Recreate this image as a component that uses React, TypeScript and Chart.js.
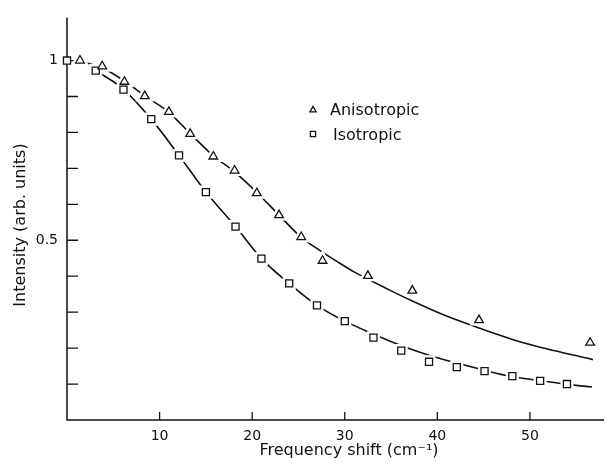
import React, { useEffect, useRef } from 'react';
import { Chart, registerables } from 'chart.js';

Chart.register(...registerables);

// Measured points (Frequency shift in cm^-1, intensity arb. units)
const anisoX = [1.4, 3.8, 6.2, 8.4, 11.0, 13.3, 15.8, 18.1, 20.5, 22.9, 25.3, 27.6, 32.5, 37.3, 44.5, 56.5];
const anisoY = [1.0, 0.984, 0.941, 0.901, 0.857, 0.796, 0.733, 0.694, 0.631, 0.57, 0.509, 0.443, 0.401, 0.36, 0.278, 0.215];

const isoX = [0, 3.1, 6.1, 9.1, 12.1, 15.0, 18.2, 21.0, 24.0, 27.0, 30.0, 33.1, 36.1, 39.1, 42.1, 45.1, 48.1, 51.1, 54.0];
const isoY = [1.0, 0.972, 0.919, 0.837, 0.736, 0.634, 0.538, 0.449, 0.38, 0.319, 0.275, 0.229, 0.193, 0.162, 0.147, 0.136, 0.122, 0.109, 0.1];

// Fitted curves
const anisoFitX = [1.9, 3.8, 6.2, 8.4, 11, 13.3, 15.8, 18.1, 20.5, 22.9, 25.3, 27.3, 29.1, 31.0, 32.5, 34.8, 37.3, 41.0, 44.5, 49.7, 56.8];
const anisoFitY = [0.995, 0.98, 0.943, 0.902, 0.856, 0.797, 0.735, 0.69, 0.633, 0.57, 0.508, 0.472, 0.442, 0.412, 0.392, 0.362, 0.331, 0.289, 0.256, 0.212, 0.168];

const isoFitX = [2.1, 3.1, 6.1, 9.1, 12.1, 15, 18.2, 21, 24, 27, 30, 33, 36, 39, 42, 45, 48, 51, 54, 56.7];
const isoFitY = [0.992, 0.973, 0.92, 0.837, 0.736, 0.634, 0.538, 0.449, 0.38, 0.319, 0.275, 0.24, 0.208, 0.181, 0.159, 0.139, 0.121, 0.11, 0.099, 0.092];

const xTickValues = [10, 20, 30, 40, 50];
const yTickValues = [0.1, 0.2, 0.3, 0.4, 0.5, 0.6, 0.7, 0.8, 0.9, 1.0];
const yLabelValues = [0.5, 1];

const seriesNames = ['Anisotropic', 'Isotropic'];
const xTitle = 'Frequency shift (cm\u207B\u00B9)';
const yTitle = 'Intensity (arb. units)';

const INK = '#111';
const FONT = "'DejaVu Sans', sans-serif";

const pts = (xs: number[], ys: number[]) => xs.map((x, i) => ({ x, y: ys[i] }));

const decorPlugin = {
  id: 'decor',
  beforeDatasetsDraw(chart: any) {
    const { ctx, scales, chartArea } = chart;
    const x = scales.x;
    const y = scales.y;
    ctx.save();
    ctx.strokeStyle = INK;
    ctx.lineWidth = 1.5;
    const x0 = x.getPixelForValue(0);
    const y0 = y.getPixelForValue(0);
    ctx.beginPath();
    ctx.moveTo(x0, chartArea.top);
    ctx.lineTo(x0, y0);
    ctx.lineTo(chartArea.right, y0);
    ctx.stroke();
    ctx.lineWidth = 1.3;
    ctx.beginPath();
    for (const v of yTickValues) {
      const py = y.getPixelForValue(v);
      ctx.moveTo(x0, py);
      ctx.lineTo(x0 + 11, py);
    }
    for (const v of xTickValues) {
      const px = x.getPixelForValue(v);
      ctx.moveTo(px, y0);
      ctx.lineTo(px, y0 - 8);
    }
    ctx.stroke();
    ctx.restore();
  },
  afterDraw(chart: any) {
    const { ctx } = chart;
    ctx.save();
    ctx.fillStyle = INK;
    ctx.font = `16px ${FONT}`;
    // x title
    ctx.textAlign = 'center';
    ctx.textBaseline = 'alphabetic';
    ctx.fillText(xTitle, 349, 455);
    // y title
    ctx.save();
    ctx.translate(25, 225);
    ctx.rotate(-Math.PI / 2);
    ctx.fillText(yTitle, 0, 0);
    ctx.restore();

    // legend
    ctx.textAlign = 'left';
    ctx.strokeStyle = INK;
    ctx.lineWidth = 1.3;
    const tx = 313, ty = 110, r = 3.6;
    ctx.beginPath();
    ctx.moveTo(tx, ty - r);
    ctx.lineTo(tx + r * 0.866, ty + r * 0.5);
    ctx.lineTo(tx - r * 0.866, ty + r * 0.5);
    ctx.closePath();
    ctx.stroke();
    ctx.fillText(seriesNames[0], 330, 115);
    const sx = 313, sy = 134, s = 2.6;
    ctx.strokeRect(sx - s, sy - s, 2 * s, 2 * s);
    ctx.fillText(seriesNames[1], 333, 140);
    ctx.restore();
  },
};

export default function App() {
  const ref = useRef<HTMLCanvasElement | null>(null);

  useEffect(() => {
    if (!ref.current) return;
    const markerBase = {
      showLine: false,
      pointBackgroundColor: '#fff',
      borderColor: INK,
      backgroundColor: '#fff',
      clip: false as any,
    };
    const chart = new Chart(ref.current, {
      type: 'line',
      data: {
        datasets: [
          {
            ...markerBase,
            label: seriesNames[0],
            data: pts(anisoX, anisoY),
            pointStyle: 'triangle',
            pointRadius: 5,
            pointBorderColor: INK,
            pointBorderWidth: 1.3,
          },
          {
            ...markerBase,
            label: seriesNames[1],
            data: pts(isoX, isoY),
            pointStyle: 'rect',
            pointRadius: 5,
            pointBorderColor: INK,
            pointBorderWidth: 1.3,
          },
          {
            ...markerBase,
            label: 'halo-a',
            data: pts(anisoX, anisoY),
            pointStyle: 'triangle',
            pointRadius: 5,
            pointBorderColor: '#fff',
            pointBorderWidth: 6,
          },
          {
            ...markerBase,
            label: 'halo-i',
            data: pts(isoX, isoY),
            pointStyle: 'rect',
            pointRadius: (c: any) => (c.raw && c.raw.x === 0 ? 0 : 5),
            pointBorderColor: '#fff',
            pointBorderWidth: 6,
          },
          {
            label: 'fit-a',
            data: pts(anisoFitX, anisoFitY),
            borderColor: INK,
            borderWidth: 1.6,
            pointRadius: 0,
            cubicInterpolationMode: 'monotone',
            fill: false,
          },
          {
            label: 'fit-i',
            data: pts(isoFitX, isoFitY),
            borderColor: INK,
            borderWidth: 1.6,
            pointRadius: 0,
            cubicInterpolationMode: 'monotone',
            fill: false,
          },
        ] as any,
      },
      options: {
        responsive: false,
        animation: false,
        events: [],
        layout: { padding: { top: 13, right: 4, left: 0, bottom: 0 } },
        plugins: {
          legend: { display: false },
          tooltip: { enabled: false },
          title: { display: false },
        },
        scales: {
          x: {
            type: 'linear',
            min: 0,
            max: 58,
            afterFit: (s: any) => {
              s.height = 50;
            },
            grid: { display: false, drawTicks: false },
            border: { display: false },
            ticks: {
              stepSize: 10,
              padding: 8,
              autoSkip: false,
              maxRotation: 0,
              color: INK,
              font: { family: FONT, size: 14 },
              callback: (v: any) => (xTickValues.includes(Number(v)) ? String(v) : ''),
            },
          },
          y: {
            type: 'linear',
            min: 0,
            max: 1.12,
            afterFit: (s: any) => {
              s.width = 67;
            },
            grid: { display: false, drawTicks: false },
            border: { display: false },
            ticks: {
              stepSize: 0.1,
              padding: 9,
              autoSkip: false,
              color: INK,
              font: { family: FONT, size: 14 },
              callback: (v: any) => {
                const n = Number(v);
                const hit = yLabelValues.find((t) => Math.abs(t - n) < 1e-6);
                return hit === undefined ? '' : String(hit);
              },
            },
          },
        },
      } as any,
      plugins: [decorPlugin],
    });
    return () => chart.destroy();
  }, []);

  return (
    <div style={{ position: 'fixed', left: 0, top: 0, width: 615, height: 470, background: '#fff' }}>
      <canvas ref={ref} width={615} height={470} style={{ display: 'block', width: 615, height: 470 }} />
    </div>
  );
}
